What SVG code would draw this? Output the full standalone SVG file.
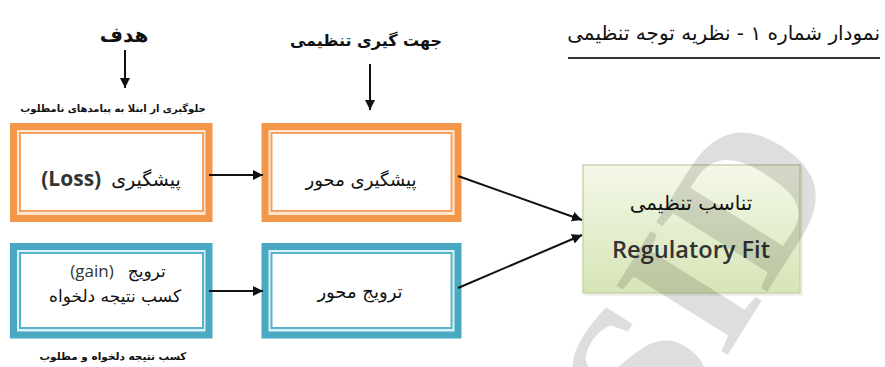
<svg xmlns="http://www.w3.org/2000/svg" width="885" height="367" viewBox="0 0 885 367">
  <defs>
    <linearGradient id="green" x1="0" y1="0" x2="0" y2="1">
      <stop offset="0" stop-color="#f4f8e8"/>
      <stop offset="1" stop-color="#d6e5b6"/>
    </linearGradient>
    <marker id="ah" viewBox="0 0 10 10" refX="10" refY="5" markerWidth="5" markerHeight="5" orient="auto" markerUnits="strokeWidth">
      <path d="M0,0 L10,5 L0,10 z" fill="#111"/>
    </marker>
    <style>
      .fa { font-family: "DejaVu Sans", "Noto Sans", sans-serif; fill: #111; direction: rtl; unicode-bidi: embed; }
      .lat { font-family: "Open Sans", "Liberation Sans", sans-serif; fill: #333; }
      .orO { fill: #fde6d0; stroke: #f2964a; stroke-width: 7; }
      .orI { fill: #ffffff; stroke: #f4a263; stroke-width: 2; }
      .blO { fill: #d9f0f6; stroke: #49a9c3; stroke-width: 7; }
      .blI { fill: #ffffff; stroke: #57b3ca; stroke-width: 2; }
      .conn { stroke: #111; stroke-width: 2; fill: none; marker-end: url(#ah); }
    </style>
  </defs>
  <rect width="885" height="367" fill="#ffffff"/>

  <g id="title">
    <text class="fa" x="880" y="40" font-size="20" text-anchor="start">نمودار شماره ۱ - نظریه توجه تنظیمی</text>
    <line x1="568" y1="58" x2="880" y2="58" stroke="#333" stroke-width="2"/>
  </g>

  <g id="label-goal">
    <text class="fa" x="124" y="42" font-size="20" font-weight="bold" text-anchor="middle">هدف</text>
  </g>
  <g id="label-orientation">
    <text class="fa" x="366" y="46" font-size="16" font-weight="bold" text-anchor="middle">جهت گیری تنظیمی</text>
  </g>
  <g id="label-avoid">
    <text class="fa" x="113" y="112" font-size="10" font-weight="bold" text-anchor="middle">جلوگیری از ابتلا به پیامدهای نامطلوب</text>
  </g>
  <g id="label-achieve">
    <text class="fa" x="113" y="360" font-size="10.5" font-weight="bold" text-anchor="middle">کسب نتیجه دلخواه و مطلوب</text>
  </g>

  <g id="node-loss">
    <rect class="orO" x="13.5" y="126.5" width="195.5" height="92"/>
    <rect class="orI" x="20" y="133" width="183" height="78"/>
    <text x="111" y="186" text-anchor="middle"><tspan class="lat" font-size="21" font-weight="bold">(Loss)</tspan><tspan class="fa" font-size="19" dx="10">پیشگیری</tspan></text>
  </g>

  <g id="node-prevention">
    <rect class="orO" x="265" y="126.5" width="193" height="92"/>
    <rect class="orI" x="271.5" y="133" width="180" height="78"/>
    <text class="fa" x="361" y="186" font-size="18" text-anchor="middle">پیشگیری محور</text>
  </g>

  <g id="node-gain">
    <rect class="blO" x="13.5" y="246.5" width="195.5" height="88.5"/>
    <rect class="blI" x="20" y="253" width="183" height="75"/>
    <text x="118" y="277" text-anchor="middle"><tspan class="lat" font-size="17" fill="#555">(gain)</tspan><tspan class="fa" font-size="17" dx="14">ترویج</tspan></text>
    <text class="fa" x="115" y="302" font-size="17" text-anchor="middle">کسب نتیجه دلخواه</text>
  </g>

  <g id="node-promotion">
    <rect class="blO" x="265" y="246.5" width="193" height="88.5"/>
    <rect class="blI" x="271.5" y="253" width="180" height="75"/>
    <text class="fa" x="360" y="298" font-size="18" text-anchor="middle">ترویج محور</text>
  </g>

  <g id="node-fit">
    <rect x="585" y="167" width="218" height="129" fill="#e8e8e0" opacity="0.6"/>
    <rect x="583" y="165" width="217" height="128" fill="url(#green)" stroke="#c9d5ad" stroke-width="1.5"/>
    <text class="fa" x="691" y="210" font-size="20" text-anchor="middle">تناسب تنظیمی</text>
    <text class="lat" x="691" y="258" font-size="23" font-weight="600" text-anchor="middle" textLength="158" lengthAdjust="spacingAndGlyphs">Regulatory Fit</text>
  </g>

  <g id="connectors">
    <line class="conn" x1="125" y1="50" x2="125" y2="88"/>
    <line class="conn" x1="370" y1="64" x2="370" y2="110"/>
    <line class="conn" x1="209" y1="175" x2="263" y2="175"/>
    <line class="conn" x1="209" y1="291" x2="263" y2="291"/>
    <line class="conn" x1="458" y1="176" x2="582" y2="220"/>
    <line class="conn" x1="458" y1="288" x2="582" y2="235"/>
  </g>

  <g id="watermark">
    <text x="0" y="0" transform="translate(665,455) rotate(-58)" font-family="Liberation Serif, serif" font-size="200" font-weight="bold" fill="#000" fill-opacity="0.13">SID</text>
  </g>
</svg>
